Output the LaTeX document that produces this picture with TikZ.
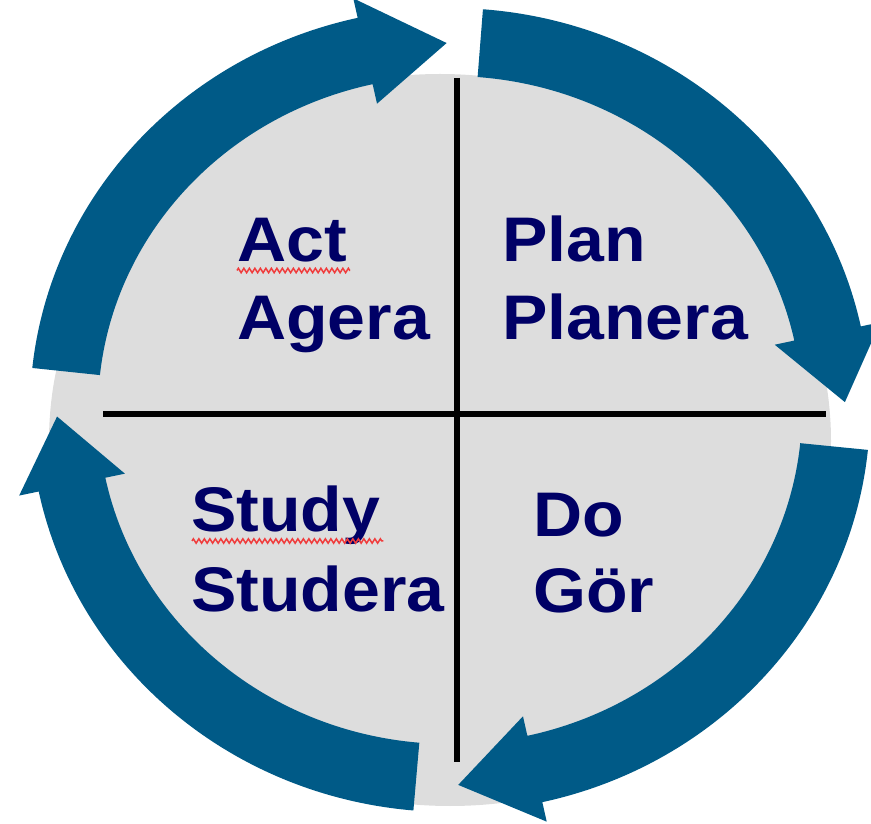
\documentclass[tikz,border=0pt]{standalone}
\usepackage{fontspec}
\setmainfont{Liberation Sans}
\usetikzlibrary{calc,decorations.pathmorphing}
\definecolor{cycblue}{HTML}{005A87}
\definecolor{txtnavy}{HTML}{000066}
\definecolor{diskgray}{HTML}{DDDDDD}
\definecolor{spellred}{HTML}{F03C3C}
\begin{document}
\begin{tikzpicture}[x=1pt,y=1pt,
  lbl/.style={font=\fontsize{63}{70}\selectfont\bfseries, text=txtnavy, inner sep=0pt, anchor=base west, xscale=1.08},
  squiggle/.style={draw=spellred, line width=1.5pt, decorate, decoration={zigzag, segment length=5.5pt, amplitude=2.2pt}},
  divider/.style={line width=6pt, black},
  cyclearrow/.style={fill=cycblue}]
\useasboundingbox (0,0) rectangle (871,823);
\clip (0,0) rectangle (871,823);
\coordinate (C) at (450,413);
\coordinate (G) at (440,382);
% gray disk
\begin{scope}
  \clip (C) ellipse [x radius=414, y radius=396];
  \fill[diskgray] (G) ellipse [x radius=391, y radius=367];
\end{scope}
% dividers
\coordinate (vt) at (457,745);
\coordinate (vb) at (457,61);
\coordinate (hl) at (103,408.5);
\coordinate (hr) at (826,408.5);
\draw[divider] (vt) -- (vb);
\draw[divider] (hl) -- (hr);
% four curved arrows (clockwise)
\foreach \tA/\bA/\tP/\dR in {174/102.7/90.5/-1, 85.5/12/1.2/9, -5.7/-77.3/-88.8/7, 265/191.7/181/7}{
  \pgfmathsetmacro\tipx{386+\dR}
  \pgfmathsetmacro\tipy{368+\dR}
  \fill[cyclearrow] ($(C)+(\tA:420pt and 402pt)$)
      arc[start angle=\tA, end angle=\bA, x radius=420, y radius=402]
      -- ($(C)+(\bA:440pt and 422pt)$)
      -- ($(C)+(\tP:\tipx pt and \tipy pt)$)
      -- ($(C)+(\bA:332pt and 314pt)$)
      -- ($(C)+(\bA:352pt and 334pt)$)
      arc[start angle=\bA, end angle=\tA, x radius=352, y radius=334]
      -- cycle;
}
% labels
\node[lbl] (act) at (237,561) {Act};
\node[lbl] (agera) at (237,483) {Agera};
\node[lbl] (plan) at (502,561) {Plan};
\node[lbl] (planera) at (502,483) {Planera};
\node[lbl] (study) at (191,291) {Study};
\node[lbl] (studera) at (191,211) {Studera};
\node[lbl] (do) at (533,286) {Do};
\node[lbl] (gor) at (533,210) {Gör};
% spell-check squiggles
\draw[squiggle] ($(act.base west)+(0,-8.5)$) -- ($(act.base east)+(3,-8.5)$);
\draw[squiggle] ($(study.base west)+(1,-9)$) -- ($(study.base east)+(3,-9)$);
\end{tikzpicture}
\end{document}
